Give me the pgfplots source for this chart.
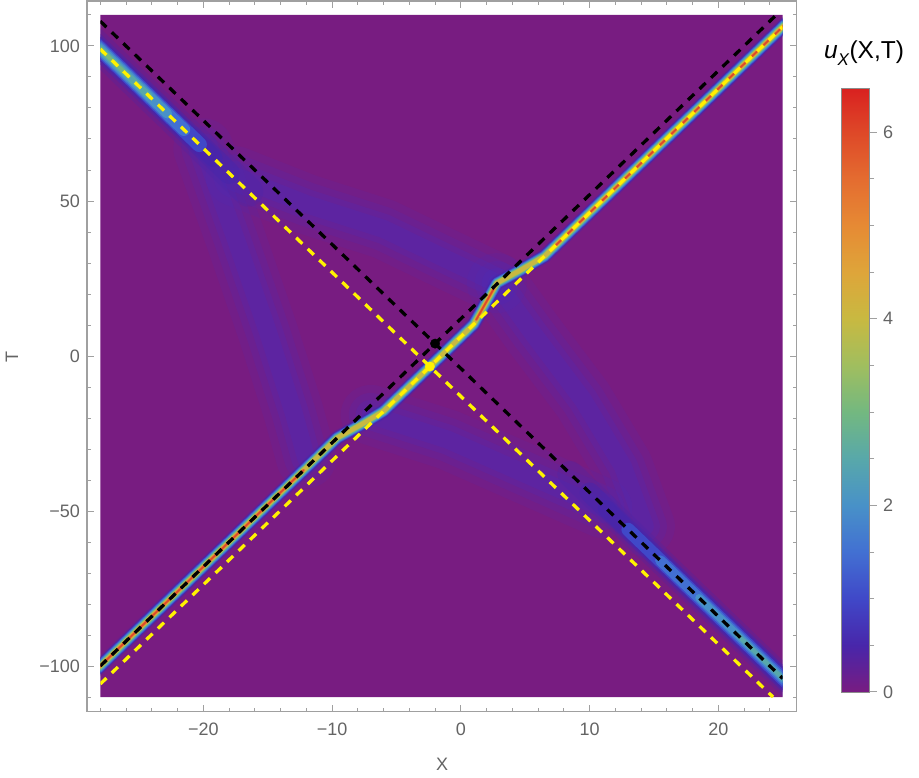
\documentclass[border=0pt]{standalone}
\usepackage{fontspec}
\setmainfont{Liberation Sans}
\usepackage{pgfplots}
\usepackage{pgfplotstable}
\pgfplotsset{compat=1.18}

% colour scale (sampled from the bar)
\definecolor{c0}{RGB}{120,28,129}
\definecolor{c05}{RGB}{72,38,170}
\definecolor{c1}{RGB}{64,72,200}
\definecolor{c15}{RGB}{66,112,210}
\definecolor{c2}{RGB}{72,145,200}
\definecolor{c25}{RGB}{88,168,170}
\definecolor{c3}{RGB}{115,184,128}
\definecolor{c35}{RGB}{160,190,95}
\definecolor{c4}{RGB}{200,185,65}
\definecolor{c45}{RGB}{222,165,58}
\definecolor{c5}{RGB}{230,138,52}
\definecolor{c55}{RGB}{228,108,48}
\definecolor{c6}{RGB}{222,72,40}
\definecolor{cb}{RGB}{72,45,190}
\definecolor{framegray}{RGB}{160,160,160}
\definecolor{labelgray}{RGB}{100,100,100}

% ridge of the first soliton (ascending)
\pgfplotstableread{
X T
-29 -104
-11.8 -35.2
-9.6 -26.4
-7.6 -21.8
-6 -17.8
1 10.2
2.8 23.5
4.6 27.6
6.5 32.2
26 110.2
}\ridgeA
\pgfplotstableread{
X T
-29 -104
-12.2 -36.8
}\ridgeAa
\pgfplotstableread{
X T
1.2 11.7
2.6 22.0
}\ridgeAb
\pgfplotstableread{
X T
7 34.2
26 110.2
}\ridgeAc

% diffuse bands between the kinks
\pgfplotstableread{
X T
-20 67
-17.5 38
-15 8
-13 -18
-12 -33
}\bandA
\pgfplotstableread{
X T
-17.5 58
-12 49
-6 41
-1 31
2.8 23.5
}\bandB
\pgfplotstableread{
X T
-7 -19
-1 -27
5 -38
11 -49
}\bandC
\pgfplotstableread{
X T
2.8 23.5
5.6 7.3
9.5 -14.2
12.6 -35.7
14.3 -55
}\bandD

\newcommand\lyr[4][1]{\addplot[no marks, draw=#3, line width=#2, opacity=#1,
  line cap=round, line join=round] table {#4};}
\newcommand\band[1]{\lyr[0.12]{60pt}{cb}{#1}\lyr[0.15]{44pt}{cb}{#1}%
  \lyr[0.2]{30pt}{cb}{#1}\lyr[0.22]{18pt}{cb}{#1}}
% one layer of a straight ridge
\newcommand\seg[5][1]{\addplot[no marks, draw=#3, line width=#2, opacity=#1,
  line cap=round] coordinates {#4 #5};}

\begin{document}
\begin{tikzpicture}
\useasboundingbox (-460.8pt,-421pt) rectangle (458.2pt,356pt);

% frame, ticks, labels, colour bar
\begin{axis}[
  at={(0,0)}, anchor=origin,
  scale only axis, width=709.67pt, height=710.706pt,
  xmin=-29.03, xmax=26.09, ymin=-114.74, ymax=114.52,
  xtick={-20,-10,0,10,20}, xticklabels={−20,−10,0,10,20},
  minor xtick={-28,-26,...,24},
  ytick={-100,-50,0,50,100}, yticklabels={−100,−50,0,50,100},
  minor ytick={-110,-100,...,110},
  tick pos=both, tick align=inside,
  major tick length=7pt, minor tick length=4pt,
  tick style={draw=framegray, line width=1pt},
  axis line style={draw=framegray, line width=1.2pt},
  tick label style={font=\fontsize{18}{18}\selectfont, text=labelgray},
  xticklabel style={anchor=center, yshift=-17.3pt},
  yticklabel style={anchor=east, inner sep=0pt, xshift=-7pt},
  xlabel={X}, ylabel={T},
  label style={font=\fontsize{18}{18}\selectfont, text=labelgray},
  xlabel style={at={(axis description cs:0.5002,-0.0736)}, anchor=center},
  ylabel style={at={(axis description cs:-0.1057,0.499)}, anchor=center},
  colormap={tolrb}{rgb255(0cm)=(120,28,129); rgb255(0.5cm)=(72,38,170);
    rgb255(1cm)=(64,72,200); rgb255(1.5cm)=(66,112,210); rgb255(2cm)=(72,145,200);
    rgb255(2.5cm)=(88,168,170); rgb255(3cm)=(115,184,128); rgb255(3.5cm)=(160,190,95);
    rgb255(4cm)=(200,185,65); rgb255(4.5cm)=(222,165,58); rgb255(5cm)=(230,138,52);
    rgb255(5.5cm)=(228,108,48); rgb255(6cm)=(222,72,40); rgb255(6.47cm)=(217,33,32)},
  point meta min=0, point meta max=6.47,
  colorbar,
  colorbar/width=28.3pt,
  colorbar shift/.style={xshift=754pt, yshift=19.7pt},
  colorbar style={
    at={(parent axis.south west)}, anchor=south west,
    scale only axis, width=28.3pt, height=603.7pt,
    xtick=\empty, minor xtick={},
    ytick={0,2,4,6}, yticklabels={0,2,4,6},
    minor ytick={0.5,1,1.5,2.5,3,3.5,4.5,5,5.5},
    ytick pos=right, yticklabel pos=right, tick align=outside,
    major tick length=7.3pt, minor tick length=4.7pt,
    tick style={draw=framegray, line width=1pt},
    axis line style={draw=black!45, line width=0.5pt},
    tick label style={font=\fontsize{18}{18}\selectfont, text=labelgray},
    yticklabel style={anchor=west, inner sep=0pt, xshift=6.4pt},
  },
]
\end{axis}

% the density picture, clipped to the sampled region
\begin{axis}[
  at={(0,0)}, anchor=origin,
  scale only axis, width=682.375pt, height=682pt,
  xmin=-28, xmax=25, ymin=-110, ymax=110,
  hide axis,
]
\addplot[draw=none, fill=c0] coordinates {(-28,-110) (25,-110) (25,110) (-28,110) (-28,-110)};

\band{\bandA}
\band{\bandB}
\band{\bandC}
\band{\bandD}

% second soliton, upper left part (on the yellow line)
\seg[0.25]{30pt}{c05}{(-29,103)}{(-16.5,53)}
\seg[0.5]{22pt}{c05}{(-29,103)}{(-18,59)}
\seg[0.85]{18pt}{c05}{(-29,103)}{(-19.2,63.8)}
\seg{15pt}{c1}{(-29,103)}{(-20.3,68.2)}
\seg{12.5pt}{c15}{(-29,103)}{(-21.5,73)}
\seg{10pt}{c2}{(-29,103)}{(-22.8,78.2)}
\seg{7pt}{c25}{(-29,103)}{(-24.2,83.8)}
\seg{4pt}{c3}{(-29,103)}{(-25.8,90.2)}

% second soliton, lower right part (on the black line)
\seg[0.25]{26pt}{c05}{(8.5,-38)}{(26,-108)}
\seg[0.5]{20pt}{c05}{(10,-44)}{(26,-108)}
\seg[0.85]{17pt}{c05}{(11.3,-49.2)}{(26,-108)}
\seg{13.5pt}{c1}{(13,-56)}{(26,-108)}
\seg{10.5pt}{c15}{(15.5,-66)}{(26,-108)}
\seg{7.5pt}{c2}{(18.5,-78)}{(26,-108)}
\seg{4.5pt}{c25}{(21.5,-90)}{(26,-108)}

% first soliton
\lyr[0.35]{14.5pt}{c05}{\ridgeA}
\lyr[0.8]{12.5pt}{c05}{\ridgeA}
\lyr{11pt}{c1}{\ridgeA}
\lyr{9.6pt}{c15}{\ridgeA}
\lyr{8.4pt}{c2}{\ridgeA}
\lyr{7.2pt}{c25}{\ridgeA}
\lyr{6.1pt}{c3}{\ridgeA}
\lyr{5.1pt}{c35}{\ridgeA}
\lyr{4.2pt}{c4}{\ridgeA}
\lyr{3.3pt}{c45}{\ridgeAa}\lyr{3.3pt}{c45}{\ridgeAb}\lyr{3.3pt}{c45}{\ridgeAc}
\lyr{2.6pt}{c5}{\ridgeAa}\lyr{2.6pt}{c5}{\ridgeAb}\lyr{2.6pt}{c5}{\ridgeAc}
\lyr{2pt}{c55}{\ridgeAa}\lyr{2pt}{c55}{\ridgeAb}\lyr{2pt}{c55}{\ridgeAc}
\lyr{1.4pt}{c6}{\ridgeAa}\lyr{1.4pt}{c6}{\ridgeAb}\lyr{1.4pt}{c6}{\ridgeAc}

% asymptotic lines
\addplot[no marks, black, line width=3.3pt, dash pattern=on 8.5pt off 7.5pt] coordinates {(-28,-100) (24.5,110)};
\addplot[no marks, yellow, line width=3.3pt, dash pattern=on 8.5pt off 7.5pt] coordinates {(-28,-105.8) (25,106.2)};
\addplot[no marks, black, line width=3.3pt, dash pattern=on 8.5pt off 7.5pt] coordinates {(-28,108) (25,-104)};
\addplot[no marks, yellow, line width=3.3pt, dash pattern=on 8.5pt off 7.5pt] coordinates {(-28,99) (24.25,-110)};

\addplot[only marks, mark=*, mark size=4.7pt, black] coordinates {(-2,4)};
\addplot[only marks, mark=*, mark size=4.7pt, yellow] coordinates {(-2.4,-3.4)};
\end{axis}

\node[font=\fontsize{24.5}{24.5}\selectfont] at (403.2pt,303pt)
  {\textit{u}\raisebox{-0.28em}{\fontsize{17}{17}\selectfont\textit{X}}(X,T)};
\end{tikzpicture}
\end{document}
